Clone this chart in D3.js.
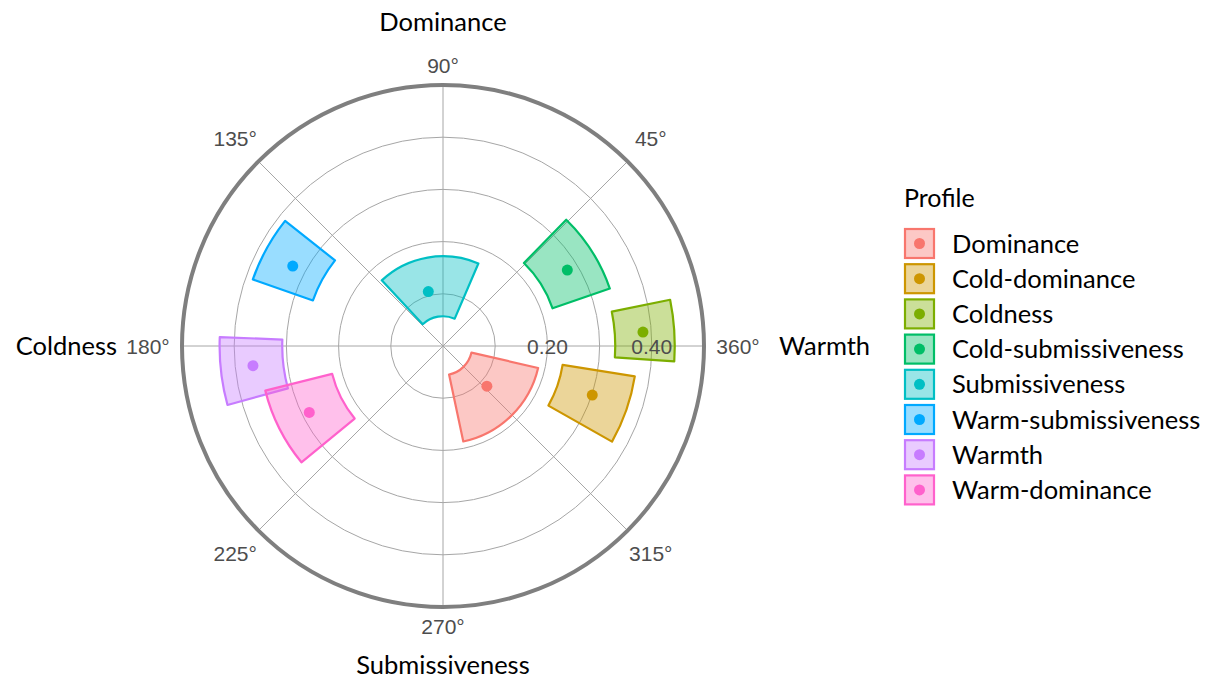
<!DOCTYPE html>
<html>
<head>
<meta charset="utf-8">
<script src="https://cdn.jsdelivr.net/npm/d3@7"></script>
<style>
  body { margin: 0; background: #fff; }
  svg { display: block; }
</style>
</head>
<body>
<div id="chart"></div>
<script>
// profile data: angle (degrees, counter-clockwise from east) and radius, with ranges
var profiles = ["Dominance", "Cold-dominance", "Coldness", "Cold-submissiveness",
                "Submissiveness", "Warm-submissiveness", "Warmth", "Warm-dominance"];
var colors = ["#F8766D", "#CD9600", "#7CAE00", "#00BE67",
              "#00BFC4", "#00A9FF", "#C77CFF", "#FF61CC"];
var angleLo  = [282, 330.5, -3.8, 19.0, 66.8, 141.6, 177.7, 194.1];
var angleHi  = [347, 351.0, 11.5, 45.7, 133.0, 160.7, 195.3, 219.4];
var anglePt  = [317.5, 341.8, 4.0, 31.4, 105.1, 152.0, 185.9, 206.4];
var radiusLo = [0.056, 0.232, 0.330, 0.222, 0.057, 0.264, 0.308, 0.219];
var radiusHi = [0.187, 0.372, 0.444, 0.338, 0.172, 0.386, 0.428, 0.351];
var radiusPt = [0.114, 0.301, 0.384, 0.279, 0.108, 0.326, 0.366, 0.286];

var gridValues = [0.1, 0.2, 0.3, 0.4];
var radialLabels = [0.2, 0.4];
var angleTicks = [45, 90, 135, 180, 225, 270, 315, 360];
var axisTitles = ["Dominance", "Coldness", "Submissiveness", "Warmth"];

var width = 1225, height = 681;
var cx = 443, cy = 346, R = 261;

var svg = d3.select("#chart").append("svg")
    .attr("width", width)
    .attr("height", height);

var g = svg.append("g").attr("transform", "translate(" + cx + "," + cy + ")");

// scales
var r = d3.scaleLinear().domain([0, 0.5]).range([0, R]);
// d3 angles: 0 at 12 o'clock, clockwise
var a = d3.scaleLinear().domain([0, 360]).range([Math.PI / 2, Math.PI / 2 - 2 * Math.PI]);

function px(deg, rad) { return rad * Math.sin(a(deg)); }
function py(deg, rad) { return -rad * Math.cos(a(deg)); }

// grid circles
g.selectAll(".grid")
  .data(gridValues)
  .enter().append("circle")
  .attr("r", function(d) { return r(d); })
  .style("fill", "none")
  .style("stroke", "#a6a6a6")
  .style("stroke-width", 1);

// spokes
g.selectAll(".spoke")
  .data(angleTicks)
  .enter().append("line")
  .attr("x1", 0).attr("y1", 0)
  .attr("x2", function(d) { return px(d, R); })
  .attr("y2", function(d) { return py(d, R); })
  .style("stroke", "#a6a6a6")
  .style("stroke-width", 1);

// outer border
g.append("circle")
  .attr("r", R)
  .style("fill", "none")
  .style("stroke", "#7f7f7f")
  .style("stroke-width", 4);

// wedges
var arc = d3.arc()
  .innerRadius(function(i) { return r(radiusLo[i]); })
  .outerRadius(function(i) { return r(radiusHi[i]); })
  .startAngle(function(i) { return a(angleHi[i]); })
  .endAngle(function(i) { return a(angleLo[i]); });

var idx = d3.range(profiles.length);

g.selectAll(".wedge")
  .data(idx)
  .enter().append("path")
  .attr("d", arc)
  .style("fill", function(i) { return colors[i]; })
  .style("fill-opacity", 0.4)
  .style("stroke", function(i) { return colors[i]; })
  .style("stroke-width", 2.2)
  .style("stroke-linejoin", "round");

g.selectAll(".pt")
  .data(idx)
  .enter().append("circle")
  .attr("cx", function(i) { return px(anglePt[i], r(radiusPt[i])); })
  .attr("cy", function(i) { return py(anglePt[i], r(radiusPt[i])); })
  .attr("r", 5.5)
  .style("fill", function(i) { return colors[i]; });

var numFont = "Liberation Sans, Arial, sans-serif";

// radial labels along 0 deg
g.selectAll(".rlab")
  .data(radialLabels)
  .enter().append("text")
  .attr("x", function(d) { return r(d); })
  .attr("y", 0)
  .attr("dy", "0.36em")
  .attr("text-anchor", "middle")
  .style("font-family", numFont)
  .style("font-size", "21px")
  .style("fill", "#4d4d4d")
  .text(function(d) { return d.toFixed(2); });

// angle tick labels, pushed out by their half-size
function labelR(d) {
  var hw = 22, hh = 7.5;
  var c = Math.abs(Math.cos(d * Math.PI / 180)), s = Math.abs(Math.sin(d * Math.PI / 180));
  return R + 12 + c * hw + s * hh;
}
g.selectAll(".alab")
  .data(angleTicks)
  .enter().append("text")
  .attr("x", function(d) { return px(d, labelR(d)); })
  .attr("y", function(d) { return py(d, labelR(d)); })
  .attr("dy", "0.36em")
  .attr("text-anchor", "middle")
  .style("font-family", numFont)
  .style("font-size", "21px")
  .style("fill", "#4d4d4d")
  .text(function(d) { return d + "°"; });

// axis titles
var titleFont = "Lato, 'Open Sans', sans-serif";
var titlePos = [
  { x: cx, y: 22, anchor: "middle" },
  { x: 117, y: cy, anchor: "end" },
  { x: cx, y: 665, anchor: "middle" },
  { x: 779, y: cy, anchor: "start" }
];
svg.selectAll(".title")
  .data(axisTitles)
  .enter().append("text")
  .attr("x", function(d, i) { return titlePos[i].x; })
  .attr("y", function(d, i) { return titlePos[i].y; })
  .attr("dy", "0.36em")
  .attr("text-anchor", function(d, i) { return titlePos[i].anchor; })
  .style("font-family", titleFont)
  .style("font-size", "25.5px")
  .style("fill", "#000")
  .text(function(d) { return d; });

// legend
var legend = svg.append("g").attr("transform", "translate(904,0)");
legend.append("text").attr("x", 0).attr("y", 198).attr("dy", "0.36em")
  .style("font-family", titleFont).style("font-size", "25px").text("Profile");

var item = legend.selectAll(".item")
  .data(idx)
  .enter().append("g")
  .attr("transform", function(i) { return "translate(0," + (228 + i * 35.2) + ")"; });

item.append("rect")
  .attr("x", 1).attr("y", 1).attr("width", 29).attr("height", 29)
  .style("fill", function(i) { return colors[i]; })
  .style("fill-opacity", 0.4)
  .style("stroke", function(i) { return colors[i]; })
  .style("stroke-width", 2.2);

item.append("circle")
  .attr("cx", 15.5).attr("cy", 15.5).attr("r", 5.5)
  .style("fill", function(i) { return colors[i]; });

item.append("text")
  .attr("x", 48).attr("y", 15.5).attr("dy", "0.36em")
  .style("font-family", titleFont).style("font-size", "25.5px")
  .text(function(i) { return profiles[i]; });
</script>
</body>
</html>
